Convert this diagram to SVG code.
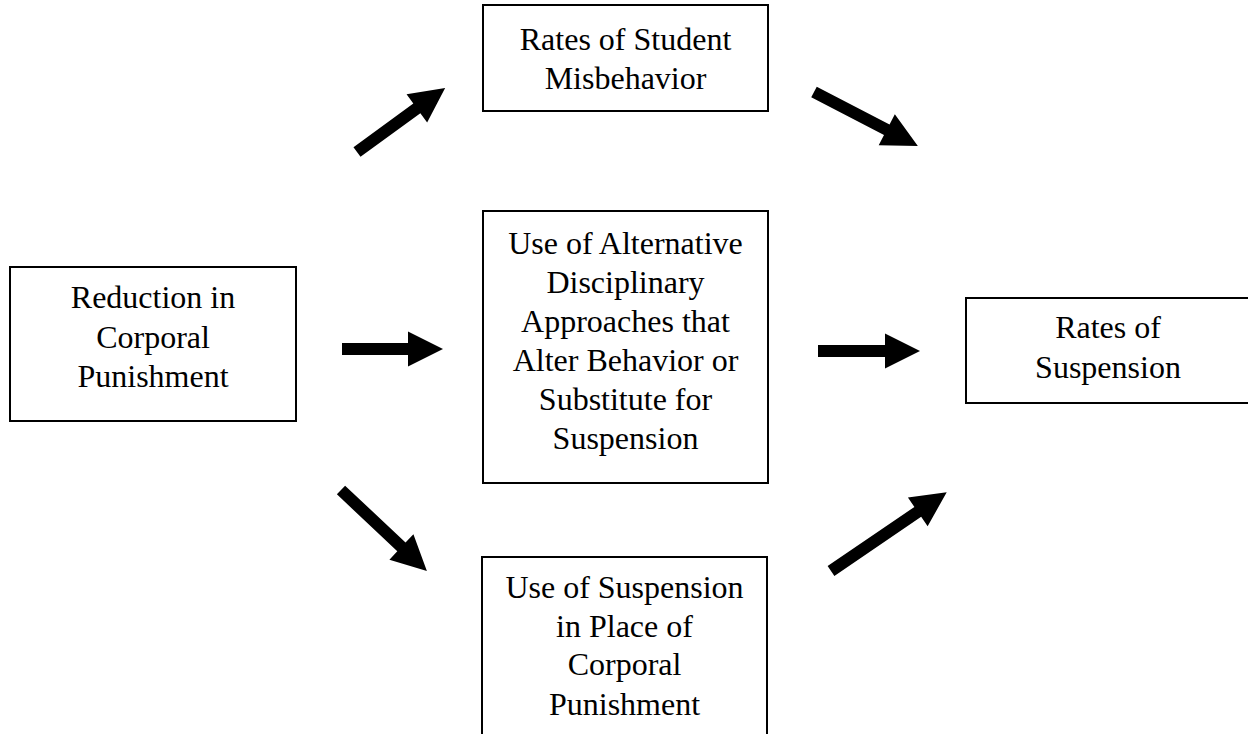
<svg xmlns="http://www.w3.org/2000/svg" width="1248" height="734" viewBox="0 0 1248 734">
<style>
.box{fill:#fff;stroke:#000;stroke-width:2}
.t{font-family:"Liberation Serif","Times New Roman",serif;font-size:32px;fill:#000;text-anchor:middle}
.arrow{fill:#000}
</style>
<rect width="1248" height="734" fill="#fff"/>
<g id="node-reduction">
<rect class="box" x="10" y="267" width="286" height="154"/>
<text class="t" x="153" y="308">Reduction in</text>
<text class="t" x="153" y="348">Corporal</text>
<text class="t" x="153" y="387">Punishment</text>
</g>
<g id="node-misbehavior">
<rect class="box" x="483" y="5" width="285" height="106"/>
<text class="t" x="625.5" y="50">Rates of Student</text>
<text class="t" x="625.5" y="89">Misbehavior</text>
</g>
<g id="node-alternative">
<rect class="box" x="483" y="211" width="285" height="272"/>
<text class="t" x="625.5" y="254">Use of Alternative</text>
<text class="t" x="625.5" y="293">Disciplinary</text>
<text class="t" x="625.5" y="332">Approaches that</text>
<text class="t" x="625.5" y="371">Alter Behavior or</text>
<text class="t" x="625.5" y="410">Substitute for</text>
<text class="t" x="625.5" y="449">Suspension</text>
</g>
<g id="node-suspension-place">
<rect class="box" x="482" y="557" width="285" height="190"/>
<text class="t" x="624.5" y="598">Use of Suspension</text>
<text class="t" x="624.5" y="637">in Place of</text>
<text class="t" x="624.5" y="675">Corporal</text>
<text class="t" x="624.5" y="715">Punishment</text>
</g>
<g id="node-rates-suspension">
<rect class="box" x="966" y="298" width="300" height="105"/>
<text class="t" x="1108" y="338">Rates of</text>
<text class="t" x="1108" y="378">Suspension</text>
</g>
<g id="connectors">
<polygon class="arrow" transform="translate(357,152) rotate(-36.03)" points="0,-6 74,-6 74,-17.5 109,0 74,17.5 74,6 0,6"/>
<polygon class="arrow" transform="translate(342,349)" points="0,-6 66,-6 66,-17.5 101,0 66,17.5 66,6 0,6"/>
<polygon class="arrow" transform="translate(341,490) rotate(43.29)" points="0,-6 83,-6 83,-17.5 118,0 83,17.5 83,6 0,6"/>
<polygon class="arrow" transform="translate(814,92) rotate(27.44)" points="0,-6 82,-6 82,-17.5 117,0 82,17.5 82,6 0,6"/>
<polygon class="arrow" transform="translate(818,351)" points="0,-6 67,-6 67,-17.5 102,0 67,17.5 67,6 0,6"/>
<polygon class="arrow" transform="translate(831,571) rotate(-34.26)" points="0,-6 105,-6 105,-17.5 140,0 105,17.5 105,6 0,6"/>
</g>
</svg>
